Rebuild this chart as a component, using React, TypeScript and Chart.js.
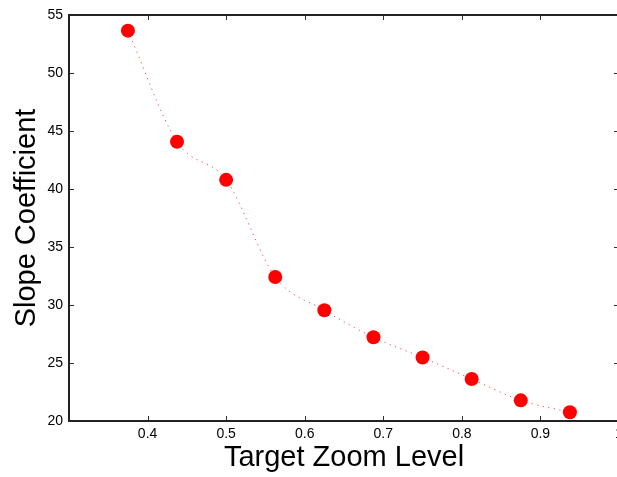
import React, { useEffect, useRef } from "react";
import { Chart, registerables } from "chart.js";

Chart.register(...registerables);

const zoomLevels = [0.375, 0.4375, 0.5, 0.5625, 0.625, 0.6875, 0.75, 0.8125, 0.875, 0.9375];
const slopeCoefficients = [53.65, 44.07, 40.79, 32.42, 29.55, 27.22, 25.47, 23.62, 21.78, 20.75];
const xTicks = [0.4, 0.5, 0.6, 0.7, 0.8, 0.9, 1.0];
const yTicks = [20, 25, 30, 35, 40, 45, 50, 55];

const FONT = "'Liberation Sans', Arial, Helvetica, sans-serif";

const boxPlugin = {
  id: "matlabBox",
  beforeDatasetsDraw(chart: any) {
    const { ctx, chartArea, scales } = chart;
    const { left, right, top, bottom } = chartArea;
    ctx.save();
    ctx.strokeStyle = "#333";
    ctx.lineWidth = 1;
    const tl = 5;
    ctx.beginPath();
    for (const v of xTicks) {
      const px = Math.round(scales.x.getPixelForValue(v)) + 0.5;
      if (px <= left + 1 || px >= right - 1) continue;
      ctx.moveTo(px, bottom);
      ctx.lineTo(px, bottom - tl);
      ctx.moveTo(px, top);
      ctx.lineTo(px, top + tl);
    }
    for (const v of yTicks) {
      const py = Math.round(scales.y.getPixelForValue(v)) + 0.5;
      if (py <= top + 1 || py >= bottom - 1) continue;
      ctx.moveTo(left, py);
      ctx.lineTo(left + tl, py);
      ctx.moveTo(right, py);
      ctx.lineTo(right - tl, py);
    }
    ctx.stroke();
    ctx.strokeStyle = "#222";
    ctx.lineWidth = 2;
    ctx.strokeRect(left, top, right - left, bottom - top);
    ctx.restore();
  },
};

export default function App() {
  const ref = useRef<HTMLCanvasElement | null>(null);

  useEffect(() => {
    document.body.style.overflow = "hidden";
    document.documentElement.style.overflow = "hidden";
    const canvas = ref.current;
    if (!canvas) return;
    const chart = new Chart(canvas, {
      type: "scatter",
      data: {
        datasets: [
          {
            data: zoomLevels.map((x, i) => ({ x, y: slopeCoefficients[i] })),
            showLine: true,
            borderColor: "rgba(255,0,0,0.75)",
            borderWidth: 1,
            borderDash: [1.2, 4.5],
            cubicInterpolationMode: "monotone",
            pointRadius: 7,
            pointHoverRadius: 7,
            pointBackgroundColor: "#ff0000",
            pointBorderColor: "#ff0000",
            pointBorderWidth: 0,
            clip: false,
          } as any,
        ],
      },
      options: {
        responsive: false,
        animation: false,
        devicePixelRatio: 1,
        layout: { padding: { top: 15, right: 21, left: 0, bottom: 0 } },
        plugins: { legend: { display: false }, tooltip: { enabled: false } },
        scales: {
          x: {
            type: "linear",
            min: 0.3,
            max: 1.0,
            afterBuildTicks: (scale: any) => {
              scale.ticks = xTicks.map((v) => ({ value: v }));
            },
            afterFit: (scale: any) => {
              scale.height = 56;
            },
            ticks: {
              padding: 5,
              color: "#000",
              font: { family: FONT, size: 14 },
              maxRotation: 0,
              autoSkip: false,
              callback: (v: any) => (Math.abs(v - 1) < 1e-9 ? "1" : Number(v).toFixed(1)),
            },
            grid: { display: false, drawTicks: false },
            border: { display: false },
            title: {
              display: true,
              text: "Target Zoom Level",
              color: "#000",
              font: { family: FONT, size: 29 },
              padding: { top: 0, bottom: 2 },
            },
          },
          y: {
            type: "linear",
            min: 20,
            max: 55,
            afterBuildTicks: (scale: any) => {
              scale.ticks = yTicks.map((v) => ({ value: v }));
            },
            afterFit: (scale: any) => {
              scale.width = 69;
            },
            ticks: {
              padding: 6,
              color: "#000",
              font: { family: FONT, size: 14 },
              autoSkip: false,
              callback: (v: any) => String(v),
            },
            grid: { display: false, drawTicks: false },
            border: { display: false },
            title: {
              display: true,
              text: "Slope Coefficient",
              color: "#000",
              font: { family: FONT, size: 29 },
              padding: { top: 10, bottom: 0 },
            },
          },
        },
      },
      plugins: [boxPlugin],
    });
    return () => chart.destroy();
  }, []);

  return (
    <div style={{ position: "fixed", left: 0, top: 0, width: 640, height: 477, background: "#fff" }}>
      <canvas ref={ref} width={640} height={477} style={{ display: "block", width: 640, height: 477 }} />
    </div>
  );
}
